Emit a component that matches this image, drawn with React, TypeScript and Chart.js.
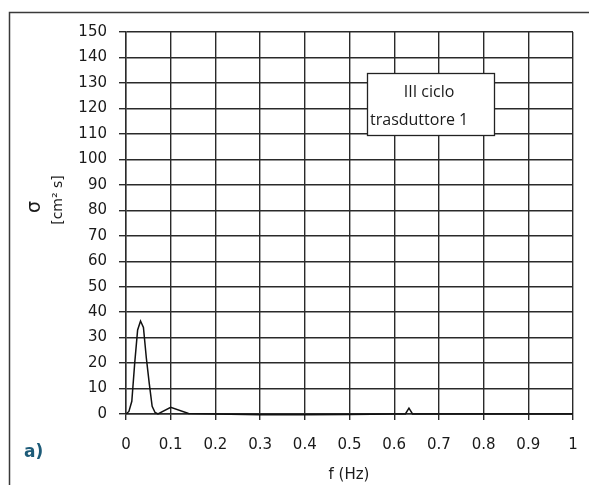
import React, { useEffect, useRef } from "react";
import { Chart, registerables } from "chart.js";

Chart.register(...registerables);

const freq = [0, 0.0065, 0.013, 0.0195, 0.026, 0.0325, 0.039, 0.0455, 0.052, 0.0585, 0.065, 0.0715, 0.1, 0.14, 0.2, 0.3, 0.4, 0.5, 0.6, 0.625, 0.633, 0.641, 0.7, 0.8, 0.9, 1.0];
const sigma = [0, 1, 5, 20, 33, 36.5, 34, 22, 12, 3, 0.6, 0, 2.6, 0.2, 0, -0.3, -0.3, -0.2, 0, 0, 2.3, 0, 0, 0, 0, 0];
const boxLines = ["III ciclo", "trasduttore 1"];
const xTitle = "f (Hz)";
const yTitleTop = "σ";
const yTitleUnit = "[cm² s]";
const panelLabel = "a)";

const decor = {
  id: "decor",
  beforeDraw(chart: any) {
    const ctx = chart.ctx;
    ctx.save();
    ctx.strokeStyle = "#3a3a3a";
    ctx.lineWidth = 1.5;
    ctx.beginPath();
    ctx.moveTo(9.5, 500);
    ctx.lineTo(9.5, 12.5);
    ctx.lineTo(589, 12.5);
    ctx.stroke();
    ctx.restore();
  },
  afterDraw(chart: any) {
    const ctx = chart.ctx;
    ctx.save();
    // legend box
    ctx.fillStyle = "#ffffff";
    ctx.fillRect(367.5, 73.5, 127, 62);
    ctx.strokeStyle = "#222";
    ctx.lineWidth = 1.3;
    ctx.strokeRect(367.5, 73.5, 127, 62);
    ctx.fillStyle = "#1a1a1a";
    ctx.font = "16px 'Open Sans'";
    ctx.textBaseline = "middle";
    ctx.textAlign = "center";
    ctx.fillText(boxLines[0], 429, 92);
    ctx.textAlign = "left";
    ctx.fillText(boxLines[1], 370, 120);
    // x title
    ctx.font = "15px 'DejaVu Sans'";
    ctx.textAlign = "center";
    ctx.fillText(xTitle, 349, 475);
    // y title
    ctx.save();
    ctx.translate(35, 207);
    ctx.rotate(-Math.PI / 2);
    ctx.font = "19px 'DejaVu Sans'";
    ctx.fillText(yTitleTop, 0, 0);
    ctx.restore();
    ctx.save();
    ctx.translate(58, 200);
    ctx.rotate(-Math.PI / 2);
    ctx.font = "14px 'DejaVu Sans'";
    ctx.fillText(yTitleUnit, 0, 0);
    ctx.restore();
    // panel label
    ctx.fillStyle = "#1d5b78";
    ctx.font = "bold 17px 'DejaVu Sans'";
    ctx.textAlign = "left";
    ctx.fillText(panelLabel, 24, 453);
    ctx.restore();
  },
};

export default function App() {
  const ref = useRef<HTMLCanvasElement>(null);
  useEffect(() => {
    document.body.style.margin = "0";
    const data = freq.map((f, i) => ({ x: f, y: sigma[i] }));
    const chart = new Chart(ref.current as HTMLCanvasElement, {
      type: "scatter",
      data: {
        datasets: [
          {
            data,
            showLine: true,
            borderColor: "#111",
            borderWidth: 1.5,
            pointRadius: 0,
            tension: 0,
            clip: 6,
          } as any,
        ],
      },
      options: {
        animation: false,
        responsive: false,
        devicePixelRatio: 1,
        layout: { padding: { top: 32, right: 16, left: 0, bottom: 0 } },
        plugins: { legend: { display: false }, tooltip: { enabled: false } },
        scales: {
          x: {
            type: "linear",
            min: 0,
            max: 1,
            afterFit(s: any) {
              s.height = 71;
              s.paddingLeft = 0;
              s.paddingRight = 0;
            },
            ticks: {
              stepSize: 0.1,
              padding: 16,
              color: "#1a1a1a",
              font: { family: "'DejaVu Sans'", size: 15 },
              callback: (v: any) => String(Math.round(Number(v) * 10) / 10),
            },
            grid: { color: "#2a2a2a", lineWidth: 1.4, tickLength: 6 },
            border: { color: "#2a2a2a", width: 1.4 },
          },
          y: {
            type: "linear",
            min: 0,
            max: 150,
            afterFit(s: any) {
              s.width = 126;
              s.paddingTop = 0;
              s.paddingBottom = 0;
            },
            ticks: {
              stepSize: 10,
              padding: 12,
              color: "#1a1a1a",
              font: { family: "'DejaVu Sans'", size: 15 },
            },
            grid: { color: "#2a2a2a", lineWidth: 1.4, tickLength: 7 },
            border: { color: "#2a2a2a", width: 1.4 },
          },
        },
      },
      plugins: [decor],
    });
    return () => chart.destroy();
  }, []);
  return <canvas ref={ref} width={589} height={485} style={{ display: "block" }} />;
}
